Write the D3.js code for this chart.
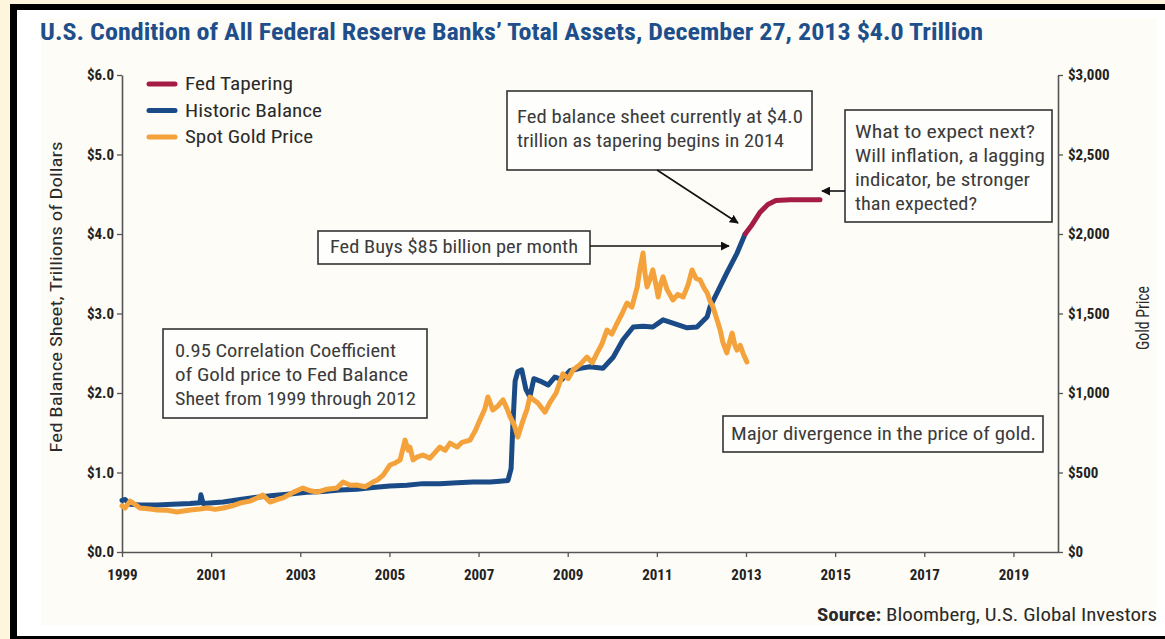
<!DOCTYPE html>
<html>
<head>
<meta charset="utf-8">
<script src="https://cdn.jsdelivr.net/npm/d3@7"></script>
<style>
  html, body { margin: 0; padding: 0; background: #fef6dc; }
  svg { display: block; }
  text { font-family: 'Liberation Sans Narrow', 'Roboto Condensed', 'DejaVu Sans Condensed', 'Liberation Sans', sans-serif; }
</style>
</head>
<body>
<svg id="chart" width="1165" height="639"></svg>
<script>
// ---------------- DATA ----------------
const fedYears = [1999.00,1999.07,1999.18,1999.40,1999.79,2000.14,2000.53,2000.75,2000.77,2000.82,
  2001.27,2001.65,2002.03,2002.39,2002.77,2003.15,2003.51,2003.89,2004.27,2004.63,
  2005.01,2005.39,2005.75,2006.13,2006.52,2006.88,2007.26,2007.48,2007.66,2007.73,
  2007.77,2007.82,2007.88,2007.97,2008.06,2008.15,2008.24,2008.38,2008.56,2008.71,
  2008.87,2009.05,2009.28,2009.50,2009.79,2010.02,2010.24,2010.47,2010.69,2010.91,
  2011.14,2011.36,2011.68,2011.90,2012.13,2012.19,2012.35,2012.57,2012.80,2012.98];
const fedValues = [0.65,0.66,0.60,0.59,0.59,0.60,0.61,0.62,0.72,0.61,
  0.63,0.66,0.69,0.71,0.73,0.75,0.76,0.78,0.79,0.81,
  0.83,0.84,0.86,0.86,0.87,0.88,0.88,0.89,0.90,1.05,
  1.60,2.15,2.27,2.29,2.05,1.95,2.18,2.15,2.10,2.20,
  2.17,2.28,2.31,2.33,2.31,2.45,2.67,2.83,2.84,2.83,
  2.92,2.88,2.82,2.83,2.96,3.08,3.26,3.51,3.76,4.00];

const taperYears = [2012.98,2013.14,2013.31,2013.49,2013.67,2013.99,2014.32,2014.66];
const taperValues = [4.00,4.12,4.27,4.37,4.42,4.43,4.43,4.43];

const goldYears = [1999.00,1999.07,1999.18,1999.29,1999.40,1999.63,1999.79,2000.01,2000.23,2000.53,
  2000.75,2000.91,2001.09,2001.27,2001.47,2001.65,2001.87,2002.03,2002.16,2002.32,
  2002.48,2002.61,2002.84,2003.06,2003.22,2003.38,2003.60,2003.82,2003.96,2004.12,
  2004.27,2004.45,2004.63,2004.74,2004.86,2005.01,2005.13,2005.24,2005.35,2005.42,
  2005.46,2005.53,2005.64,2005.75,2005.91,2006.02,2006.13,2006.25,2006.36,2006.52,
  2006.63,2006.81,2006.92,2007.03,2007.14,2007.21,2007.32,2007.44,2007.55,2007.64,
  2007.71,2007.80,2007.88,2008.00,2008.09,2008.15,2008.33,2008.49,2008.60,2008.74,
  2008.89,2009.01,2009.12,2009.28,2009.43,2009.55,2009.66,2009.77,2009.88,2009.99,
  2010.11,2010.22,2010.33,2010.44,2010.56,2010.62,2010.69,2010.73,2010.78,2010.85,
  2010.91,2010.98,2011.03,2011.09,2011.14,2011.23,2011.36,2011.47,2011.59,2011.70,
  2011.79,2011.88,2011.97,2012.06,2012.13,2012.19,2012.26,2012.35,2012.42,2012.48,
  2012.57,2012.64,2012.69,2012.75,2012.80,2012.87,2012.93,2013.02];
const goldValues = [290,277,320,300,277,270,264,262,252,264,
  270,277,268,277,290,308,320,340,358,314,
  330,340,375,402,385,377,395,402,440,420,
  421,410,440,455,484,547,560,579,704,640,
  660,579,600,610,590,625,660,640,685,660,
  690,704,760,830,900,975,893,920,956,900,
  849,800,723,830,900,975,937,880,940,1000,
  1120,1090,1145,1180,1226,1190,1252,1310,1396,1370,
  1440,1500,1566,1540,1667,1780,1881,1760,1667,1720,
  1774,1680,1604,1690,1730,1650,1585,1620,1604,1680,
  1774,1720,1711,1660,1629,1580,1541,1460,1396,1320,
  1252,1330,1377,1300,1270,1300,1252,1195];

const leftTicks = [0,1,2,3,4,5,6];
const rightTicks = [0,500,1000,1500,2000,2500,3000];
const yearTicks = [1999,2001,2003,2005,2007,2009,2011,2013,2015,2017,2019];

const legendLabels = ["Fed Tapering","Historic Balance","Spot Gold Price"];
const colors = { taper: "#a51d47", fed: "#1a4b86", gold: "#f4a23c" };

// ---------------- DRAW ----------------
const svg = d3.select("#chart");
const FONT_TXT = "#3b3b3b";

function fit(sel, w) { sel.attr("textLength", w).attr("lengthAdjust", "spacingAndGlyphs"); return sel; }

// frame
svg.append("rect").attr("x", 0).attr("y", 0).attr("width", 1165).attr("height", 639).attr("fill", "#fef6dc");
svg.append("rect").attr("x", 10).attr("y", 4).attr("width", 1155).attr("height", 635).attr("fill", "#000");
svg.append("rect").attr("x", 17).attr("y", 10).attr("width", 1148).attr("height", 626).attr("fill", "#ffffff");
svg.append("rect").attr("x", 41).attr("y", 18).attr("width", 1116).attr("height", 607).attr("fill", "#fdfcf7");

// title
fit(svg.append("text").attr("x", 40).attr("y", 40)
  .attr("font-size", 23).attr("font-weight", "bold").attr("fill", "#1e4f8b")
  .text("U.S. Condition of All Federal Reserve Banks\u2019 Total Assets, December 27, 2013 $4.0 Trillion"), 943);

// scales
const x = d3.scaleLinear().domain([1999, 2020]).range([122, 1058]);
const yL = d3.scaleLinear().domain([0, 6]).range([552, 75]);
const yR = d3.scaleLinear().domain([0, 3000]).range([552, 75]);

// axes
const axisColor = "#555";
function styleAxis(g) {
  g.selectAll("path.domain").attr("stroke", axisColor).attr("stroke-width", 1.6);
  g.selectAll(".tick line").attr("stroke", axisColor).attr("stroke-width", 1.3);
  g.selectAll(".tick text").attr("fill", "#222").attr("font-weight", "bold").attr("font-size", 15)
    .attr("font-family", "'Liberation Sans Narrow', 'Roboto Condensed', 'DejaVu Sans Condensed', sans-serif");
}
const gL = svg.append("g").attr("transform", "translate(122,0)")
  .call(d3.axisLeft(yL).tickValues(leftTicks).tickSize(5).tickSizeOuter(0).tickPadding(3)
    .tickFormat(d => "$" + d.toFixed(1)));
styleAxis(gL);
const gR = svg.append("g").attr("transform", "translate(1058,0)")
  .call(d3.axisRight(yR).tickValues(rightTicks).tickSize(5).tickSizeOuter(0).tickPadding(5)
    .tickFormat(d => "$" + d3.format(",")(d)));
styleAxis(gR);
const gB = svg.append("g").attr("transform", "translate(0,552)")
  .call(d3.axisBottom(x).tickValues(yearTicks).tickSize(5).tickSizeOuter(0).tickPadding(12)
    .tickFormat(d => String(d)));
styleAxis(gB);

// axis titles
fit(svg.append("text").attr("transform", "translate(62,297) rotate(-90)").attr("text-anchor", "middle")
  .attr("font-size", 17).attr("fill", "#2a2a2a").text("Fed Balance Sheet, Trillions of Dollars"), 311);
fit(svg.append("text").attr("transform", "translate(1149,318) rotate(-90)").attr("text-anchor", "middle")
  .attr("font-size", 19).attr("fill", "#2a2a2a").text("Gold Price"), 64);

// lines
const fedData = fedYears.map((t, i) => [t, fedValues[i]]);
const taperData = taperYears.map((t, i) => [t, taperValues[i]]);
const goldData = goldYears.map((t, i) => [t, goldValues[i]]);
const lineL = d3.line().x(d => x(d[0])).y(d => yL(d[1]));
const lineR = d3.line().x(d => x(d[0])).y(d => yR(d[1]));

function drawLine(data, gen, color) {
  svg.append("path").datum(data).attr("d", gen).attr("fill", "none")
    .attr("stroke", color).attr("stroke-width", 5)
    .attr("stroke-linejoin", "round").attr("stroke-linecap", "round");
}
drawLine(fedData, lineL, colors.fed);
drawLine(taperData, lineL, colors.taper);
drawLine(goldData, lineR, colors.gold);

// legend
const legColors = [colors.taper, colors.fed, colors.gold];
const legWidths = [108, 137, 128];
legendLabels.forEach((lab, i) => {
  const cy = 84 + i * 26.5;
  svg.append("line").attr("x1", 149).attr("x2", 175).attr("y1", cy).attr("y2", cy)
    .attr("stroke", legColors[i]).attr("stroke-width", 5).attr("stroke-linecap", "round");
  fit(svg.append("text").attr("x", 185).attr("y", cy + 6).attr("font-size", 18).attr("fill", "#2a2a2a")
    .text(lab), legWidths[i]);
});

// arrow marker
svg.append("defs").append("marker").attr("id", "arr").attr("viewBox", "0 0 10 10")
  .attr("refX", 9).attr("refY", 5).attr("markerWidth", 9).attr("markerHeight", 9)
  .attr("markerUnits", "userSpaceOnUse").attr("orient", "auto")
  .append("path").attr("d", "M0,0 L10,5 L0,10 z").attr("fill", "#111");

function box(x0, y0, w, h, lines, tx, baselines, widths, fs) {
  svg.append("rect").attr("x", x0).attr("y", y0).attr("width", w).attr("height", h)
    .attr("fill", "#fefefc").attr("stroke", "#333").attr("stroke-width", 1.6);
  lines.forEach((l, i) => {
    fit(svg.append("text").attr("x", tx).attr("y", baselines[i]).attr("font-size", fs)
      .attr("fill", FONT_TXT).text(l), widths[i]);
  });
}
function arrow(x1, y1, x2, y2) {
  svg.append("line").attr("x1", x1).attr("y1", y1).attr("x2", x2).attr("y2", y2)
    .attr("stroke", "#111").attr("stroke-width", 1.6).attr("marker-end", "url(#arr)");
}

box(163, 329, 264, 89,
  ["0.95 Correlation Coefficient", "of Gold price to Fed Balance", "Sheet from 1999 through 2012"],
  175, [357, 381, 405], [221, 233, 241], 18);

box(318, 231, 272, 33, ["Fed Buys $85 billion per month"], 330, [253], [248], 18);
arrow(590, 246, 729, 246);

box(507, 91, 305, 79,
  ["Fed balance sheet currently at $4.0", "trillion as tapering begins in 2014"],
  517, [123, 147], [286, 267], 18);
arrow(657, 170, 738, 223);

box(845, 110, 207, 112,
  ["What to expect next?", "Will inflation, a lagging", "indicator, be stronger", "than expected?"],
  855, [138, 162, 186, 210], [180, 190, 175, 122], 18);
arrow(845, 191, 822, 191);

box(723, 416, 320, 36, ["Major divergence in the price of gold."], 731, [440], [305], 18);

// source
const src = svg.append("text").attr("x", 1157).attr("y", 621).attr("text-anchor", "end")
  .attr("font-size", 18).attr("fill", "#2a2a2a");
src.append("tspan").attr("font-weight", "bold").text("Source:");
src.append("tspan").text(" Bloomberg, U.S. Global Investors");
fit(src, 340);
</script>
</body>
</html>
